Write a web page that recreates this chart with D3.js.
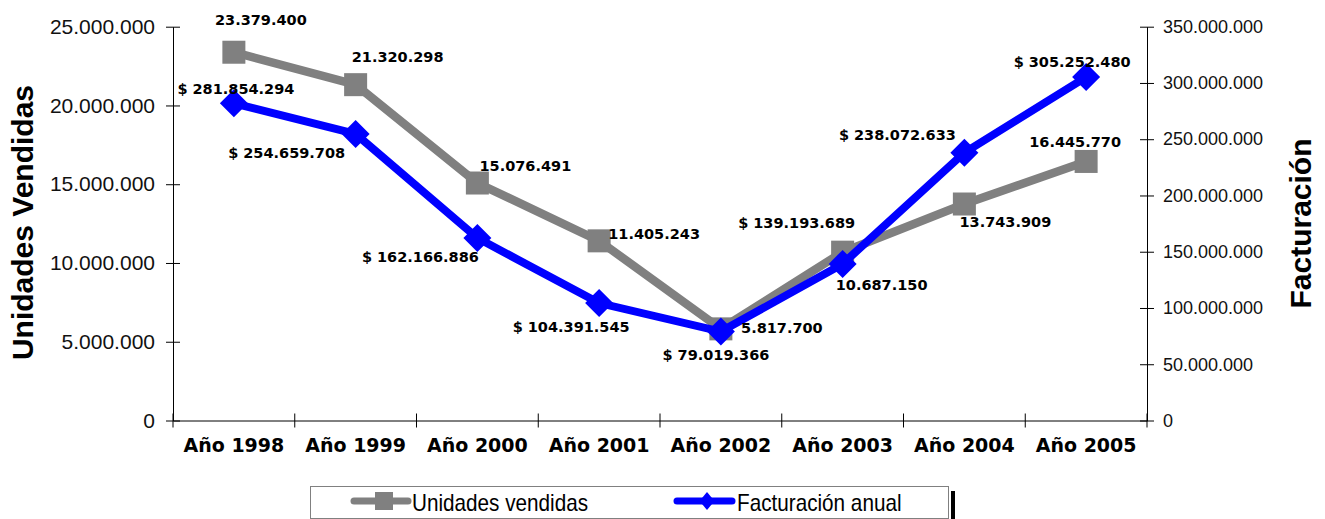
<!DOCTYPE html>
<html>
<head>
<meta charset="utf-8">
<script src="https://cdn.jsdelivr.net/npm/d3@7"></script>
<style>
  body { margin: 0; background: #fff; }
  text { font-family: "Liberation Sans", Arial, sans-serif; }
</style>
</head>
<body>
<svg id="chart" width="1325" height="519"></svg>
<script>
// data
var years = ["Año 1998", "Año 1999", "Año 2000", "Año 2001", "Año 2002", "Año 2003", "Año 2004", "Año 2005"];
var unidades = [23379400, 21320298, 15076491, 11405243, 5817700, 10687150, 13743909, 16445770];
var facturacion = [281854294, 254659708, 162166886, 104391545, 79019366, 139193689, 238072633, 305252480];
var leftTicks = [0, 5000000, 10000000, 15000000, 20000000, 25000000];
var rightTicks = [0, 50000000, 100000000, 150000000, 200000000, 250000000, 300000000, 350000000];

// label nudges (dx, dy of baseline from the marker), done by eye
var grayLab = [[27, -27], [42, -23], [48, -12], [55, -2], [61, 4], [39, 38], [41, 23], [-11, -14]];
var blueLab = [[2, -9], [-69, 24], [-57, 24], [-28, 29], [-5, 28], [-46, -36], [-67, -13], [-14, -10]];

var svg = d3.select("#chart");
var L = 173, R = 1147, T = 26.7, B = 420.5;

var x = d3.scaleBand().domain(years).range([L, R]);
var yL = d3.scaleLinear().domain([0, 25000000]).range([B, T]);
var yR = d3.scaleLinear().domain([0, 350000000]).range([B, T]);

var fmt = function(v) { return d3.format(",")(v).replace(/,/g, "."); };

// left axis
var gl = svg.append("g").attr("transform", "translate(" + L + ",0)")
  .call(d3.axisLeft(yL).tickValues(leftTicks).tickFormat(fmt).tickSizeInner(7).tickSizeOuter(0).tickPadding(11));
gl.selectAll(".tick line").attr("x2", 7).attr("x1", -7);
gl.selectAll(".tick text").attr("font-size", 21).attr("fill", "#111");
// right axis
var gr = svg.append("g").attr("transform", "translate(" + R + ",0)")
  .call(d3.axisRight(yR).tickValues(rightTicks).tickFormat(fmt).tickSizeInner(7).tickSizeOuter(0).tickPadding(9));
gr.selectAll(".tick line").attr("x1", -7).attr("x2", 7);
gr.selectAll(".tick text").attr("font-size", 18).attr("fill", "#111");
// bottom axis
var gb = svg.append("g").attr("transform", "translate(0," + B + ")")
  .call(d3.axisBottom(x).tickSize(0));
gb.selectAll(".tick text").attr("y", 31.5).attr("dy", 0)
  .attr("font-weight", "bold").attr("font-size", 19).attr("fill", "#000")
  .style("font-family", "DejaVu Sans, Verdana, sans-serif");
gb.selectAll(".bnd").data(d3.range(years.length + 1)).enter().append("line")
  .attr("x1", function(i) { return L + i * x.step(); })
  .attr("x2", function(i) { return L + i * x.step(); })
  .attr("y1", -7).attr("y2", 7).attr("stroke", "#000");

svg.selectAll(".domain").attr("stroke", "#000");
svg.selectAll(".tick line").attr("stroke", "#000");

// axis titles
svg.append("text").attr("transform", "translate(33,222.5) rotate(-90)")
  .attr("text-anchor", "middle").attr("font-weight", "bold").attr("font-size", 30)
  .text("Unidades Vendidas");
svg.append("text").attr("transform", "translate(1311,223.5) rotate(-90)")
  .attr("text-anchor", "middle").attr("font-weight", "bold").attr("font-size", 30)
  .text("Facturación");

var cx = function(d, i) { return x(years[i]) + x.bandwidth() / 2; };

// gray series
svg.append("path").datum(unidades)
  .attr("fill", "none").attr("stroke", "#808080").attr("stroke-width", 8.5)
  .attr("d", d3.line().x(cx).y(function(d) { return yL(d); }));
svg.selectAll(".sq").data(unidades).enter().append("rect")
  .attr("x", function(d, i) { return cx(d, i) - 11.5; })
  .attr("y", function(d) { return yL(d) - 11.5; })
  .attr("width", 23).attr("height", 23).attr("fill", "#808080");

// blue series
svg.append("path").datum(facturacion)
  .attr("fill", "none").attr("stroke", "#0000ff").attr("stroke-width", 8)
  .attr("d", d3.line().x(cx).y(function(d) { return yR(d); }));
svg.selectAll(".dm").data(facturacion).enter().append("path")
  .attr("transform", function(d, i) { return "translate(" + cx(d, i) + "," + yR(d) + ")"; })
  .attr("d", "M0,-14L14,0L0,14L-14,0Z").attr("fill", "#0000ff");

// labels
var labFont = "DejaVu Sans, Verdana, sans-serif";
svg.selectAll(".gl").data(unidades).enter().append("text")
  .attr("x", function(d, i) { return cx(d, i) + grayLab[i][0]; })
  .attr("y", function(d, i) { return yL(d) + grayLab[i][1]; })
  .attr("text-anchor", "middle").attr("font-weight", "bold").attr("font-size", 14.5)
  .style("font-family", labFont).text(fmt);
svg.selectAll(".bl").data(facturacion).enter().append("text")
  .attr("x", function(d, i) { return cx(d, i) + blueLab[i][0]; })
  .attr("y", function(d, i) { return yR(d) + blueLab[i][1]; })
  .attr("text-anchor", "middle").attr("font-weight", "bold").attr("font-size", 14.5)
  .style("font-family", labFont).text(function(d) { return "$ " + fmt(d); });

// legend
var lg = svg.append("g");
lg.append("rect").attr("x", 951).attr("y", 491).attr("width", 4).attr("height", 28).attr("fill", "#000");
lg.append("rect").attr("x", 310.5).attr("y", 486.5).attr("width", 638).attr("height", 32)
  .attr("fill", "#fff").attr("stroke", "#808080");
lg.append("line").attr("x1", 354).attr("x2", 408).attr("y1", 501).attr("y2", 501)
  .attr("stroke", "#808080").attr("stroke-width", 7).attr("stroke-linecap", "round");
lg.append("rect").attr("x", 375).attr("y", 492).attr("width", 18).attr("height", 18).attr("fill", "#808080");
lg.append("text").attr("transform", "translate(412,511) scale(0.9,1)").attr("font-size", 23)
  .text("Unidades vendidas");
lg.append("line").attr("x1", 677).attr("x2", 732).attr("y1", 501).attr("y2", 501)
  .attr("stroke", "#0000ff").attr("stroke-width", 7).attr("stroke-linecap", "round");
lg.append("path").attr("transform", "translate(707,501)").attr("d", "M0,-9L7.5,0L0,9L-7.5,0Z").attr("fill", "#0000ff");
lg.append("text").attr("transform", "translate(737,511) scale(0.9,1)").attr("font-size", 23)
  .text("Facturación anual");
</script>
</body>
</html>
